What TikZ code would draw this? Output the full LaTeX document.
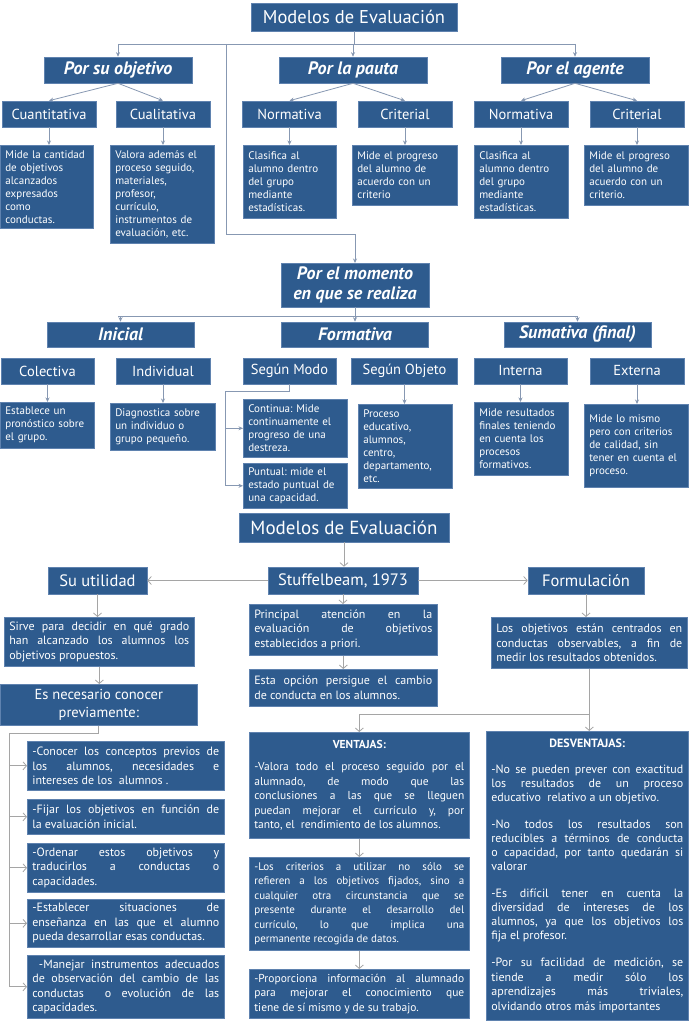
\documentclass[tikz,border=0pt]{standalone}
\usepackage{fontspec}
\setmainfont{PT Sans}
\usetikzlibrary{arrows.meta}
\definecolor{boxblue}{RGB}{46,91,142}
\definecolor{boxedge}{RGB}{95,130,175}
\definecolor{linkblue}{RGB}{135,152,178}
\definecolor{linkgray}{RGB}{165,165,165}
\tikzset{
  blk/.style={draw=boxedge, line width=0.6pt, fill=boxblue, text=white, inner sep=0pt},
  titlebox/.style={blk, font=\fontsize{18.5}{20}\selectfont},
  catbox/.style={blk, align=center, font=\fontsize{18}{20}\selectfont\bfseries\itshape},
  subbox/.style={blk, font=\fontsize{14.5}{16}\selectfont},
  descbox/.style={blk, anchor=north west, align=left, inner xsep=5pt, font=\fontsize{11}{13}\selectfont},
  notebox/.style={blk, anchor=north west, align=justify, inner xsep=5pt, font=\fontsize{12}{14.5}\selectfont},
  arr/.style={draw=linkblue, line width=0.8pt, -{Stealth[length=4.5pt,width=4pt]}},
  ln/.style={draw=linkblue, line width=0.8pt},
  garr/.style={draw=linkgray, line width=0.8pt, -{Straight Barb[length=3.5pt,width=8pt]}},
  gln/.style={draw=linkgray, line width=0.8pt}
}
\newcommand{\parbrk}{\par}
\newcommand{\boxtitle}[2]{{\centering\bfseries #1\parbrk}\vspace{#2}}
\newcommand{\midnote}{\fontsize{11.5}{15}\selectfont}
\newcommand{\tightnote}{\fontsize{11}{15}\selectfont}
\newcommand{\listnote}{\fontsize{12}{14}\selectfont}
\tolerance=10000
\hbadness=10000
\hyphenpenalty=10000
\exhyphenpenalty=10000
\frenchspacing
\begin{document}
\begin{tikzpicture}[x=1pt,y=-1pt]
  \fill[white] (0,0) rectangle (689,1024);
  \useasboundingbox (0,0) rectangle (689,1024);

  % por su objetivo, por la pauta, por el agente
  \node[titlebox, minimum width=206pt, minimum height=28pt] (top) at (354,17) {Modelos de Evaluación};
  \foreach \x/\lab/\tx in {118/obj/Por su objetivo, 353/pauta/Por la pauta, 575/agente/Por el agente} {
    \node[catbox, minimum width=148pt, minimum height=26pt] (\lab) at (\x,70) {\tx};
  }
  \foreach \x/\lab/\tx in {
    49/cuant/Cuantitativa,
    163/cual/Cualitativa,
    289.5/norm1/Normativa,
    405/crit1/Criterial,
    521/norm2/Normativa,
    637/crit2/Criterial%
  } {
    \node[subbox, minimum width=94pt, minimum height=26pt] (\lab) at (\x,114) {\tx};
  }
  \foreach \x/\y/\w/\h/\lab/\tx in {
    0/145/93/83/cuant-d/{Mide la cantidad\\ de objetivos\\ alcanzados\\ expresados\\ como\\ conductas.},
    110/145/104/98/cual-d/{Valora además el\\ proceso seguido,\\ materiales,\\ profesor,\\ currículo,\\ instrumentos de\\ evaluación, etc.},
    243/145/93/73/norm1-d/{Clasifica al\\ alumno dentro\\ del grupo\\ mediante\\ estadísticas.},
    352/145/105/60/crit1-d/{Mide el progreso\\ del alumno de\\ acuerdo con un\\ criterio},
    474/145/94/73/norm2-d/{Clasifica al\\ alumno dentro\\ del grupo\\ mediante\\ estadísticas.},
    584/145/104/60/crit2-d/{Mide el progreso\\ del alumno de\\ acuerdo con un\\ criterio.}%
  } {
    \pgfmathsetmacro\tw{\w-10}
    \node[descbox, text width=\tw pt, minimum height=\h pt] (\lab) at (\x,\y) {\tx};
  }

  \coordinate (hub) at (354,44);
  \coordinate (drop) at (226,44);
  \coordinate (turn) at (226,234);
  \draw[ln] (top) -- (hub);
  \draw[ln] (obj.north |- hub) -- (agente.north |- hub);
  \foreach \n in {obj,pauta,agente}{
    \draw[arr] (\n.north |- hub) -- (\n.north);
  }
  \draw[arr] (drop) -- (turn) -| (355,263);
  \foreach \u/\v in {obj/cuant, obj/cual, pauta/norm1, pauta/crit1, agente/norm2, agente/crit2}{
    \draw[arr] (\u.south) -- (\v.north);
  }
  \foreach \u in {cuant,cual,norm1,crit1,norm2,crit2}{
    \draw[arr] (\u.south) -- (\u.south |- \u-d.north);
  }

  % por el momento
  \node[catbox, minimum width=148pt, minimum height=44pt] (momento) at (355,285) {Por el momento\\ en que se realiza};
  \foreach \x/\lab/\tx in {120.5/inicial/Inicial, 355/formativa/Formativa, 577.5/sumativa/Sumativa (final)} {
    \node[catbox, minimum width=147pt, minimum height=25pt] (\lab) at (\x,334.5) {\tx};
  }
  \foreach \x/\w/\lab/\tx in {
    47.5/93/colect/Colectiva,
    163/94/indiv/Individual,
    289.5/93/modo/Según Modo,
    404.5/106/objeto/Según Objeto,
    520.5/93/interna/Interna,
    637/94/externa/Externa%
  } {
    \node[subbox, minimum width=\w pt, minimum height=26pt] (\lab) at (\x,371) {\tx};
  }
  \foreach \x/\y/\w/\h/\lab/\tx in {
    0/402/94/46/colect-d/{Establece un\\ pronóstico sobre\\ el grupo.},
    110/403/105/47/indiv-d/{Diagnostica sobre\\ un individuo o\\ grupo pequeño.},
    243/399/104/58/cont/{Continua: Mide\\ continuamente el\\ progreso de una\\ destreza.},
    243/463/104/45/punt/{Puntual: mide el\\ estado puntual de\\ una capacidad.},
    358/404/94/84/objeto-d/{Proceso\\ educativo,\\ alumnos,\\ centro,\\ departamento,\\ etc.},
    474/402/94/73/interna-d/{Mide resultados\\ finales teniendo\\ en cuenta los\\ procesos\\ formativos.},
    584/404/104/83/externa-d/{Mide lo mismo\\ pero con criterios\\ de calidad, sin\\ tener en cuenta el\\ proceso.}%
  } {
    \pgfmathsetmacro\tw{\w-10}
    \node[descbox, text width=\tw pt, minimum height=\h pt] (\lab) at (\x,\y) {\tx};
  }

  \coordinate (mhub) at (355,316);
  \coordinate (mknee) at (225,391);
  \draw[ln] (momento) -- (mhub);
  \draw[ln] (118,316) -- (577.5,316);
  \foreach \n in {inicial,formativa,sumativa}{
    \draw[arr] (\n.north |- mhub) -- (\n.north);
  }
  \foreach \u in {colect,indiv,objeto,interna,externa}{
    \draw[arr] (\u.south) -- (\u.south |- \u-d.north);
  }
  \draw[ln] (modo.south) -- (modo.south |- mknee) -- (mknee) -- (mknee |- punt.west);
  \draw[arr] (mknee |- cont.west) -- (cont.west);
  \draw[arr] (mknee |- punt.west) -- (punt.west);

  % Stuffelbeam
  \node[titlebox, font=\fontsize{19}{20}\selectfont, minimum width=210pt, minimum height=29pt] (top2) at (344,527.5) {Modelos de Evaluación};
  \foreach \x/\w/\lab/\tx in {97.5/99/util/Su utilidad, 343/150/stuff/{Stuffelbeam, 1973}, 586/116/formul/Formulación} {
    \node[titlebox, font=\fontsize{16.5}{18}\selectfont, minimum width=\w pt, minimum height=27pt] (\lab) at (\x,580.5) {\tx};
  }
  \node[blk, anchor=north west, align=center, font=\fontsize{14.5}{18}\selectfont, minimum width=197pt, minimum height=41pt] (nec) at (0,684) {Es necesario conocer\\ previamente:};
  \foreach \x/\y/\w/\h/\lab/\tx in {
    4/617/190/49/sirve/{Sirve para decidir en qué grado\linebreak han alcanzado los alumnos los\linebreak objetivos propuestos.},
    27/741/197/49/p1/{-Conocer los conceptos previos de\linebreak los alumnos, necesidades e\linebreak intereses de los~ alumnos .},
    27/799/197/35/p2/{-Fijar los objetivos en función de\linebreak la evaluación inicial.},
    27/843/197/49/p3/{-Ordenar estos objetivos y\linebreak traducirlos a conductas o\linebreak capacidades.},
    27/899/197/48/p4/{-Establecer situaciones de\linebreak enseñanza en las que el alumno\linebreak pueda desarrollar esas conductas.},
    27/955/197/63/p5/{\ -Manejar instrumentos adecuados\linebreak de observación del cambio de las\linebreak conductas~ o evolución de las\linebreak capacidades.},
    249/604/188/51/principal/{Principal atención en la\linebreak evaluación de objetivos\linebreak establecidos a priori.},
    249/669/188/37/esta/{Esta opción persigue el cambio\linebreak de conducta en los alumnos.},
    491/617/196/51/objetivos/{Los objetivos están centrados en\linebreak conductas observables, a fin de\linebreak medir los resultados obtenidos.},
    249/732/220/106/ventajas/{\midnote\boxtitle{VENTAJAS:}{8pt}-Valora todo el proceso seguido por el\linebreak alumnado, de modo que las\linebreak conclusiones a las que se lleguen\linebreak puedan mejorar el currículo y, por\linebreak tanto, el~ rendimiento de los alumnos.},
    249/857/220/93/v2/{\tightnote-Los criterios a utilizar no sólo se\linebreak refieren a los objetivos fijados, sino a\linebreak cualquier otra circunstancia que se\linebreak presente durante el desarrollo del\linebreak currículo, lo que implica una\linebreak permanente recogida de datos.},
    249/969/220/49/v3/{\midnote-Proporciona información al alumnado\linebreak para mejorar el conocimiento que\linebreak tiene de sí mismo y de su trabajo.},
    486/731/202/289/desv/{\listnote\boxtitle{DESVENTAJAS:}{12pt}-No se pueden prever con exactitud\linebreak los resultados de un proceso\linebreak educativo~ relativo a un objetivo.\parbrk\vspace{13pt}-No todos los resultados son\linebreak reducibles a términos de conducta\linebreak o capacidad, por tanto quedarán si\linebreak valorar\parbrk\vspace{13pt}-Es difícil tener en cuenta la\linebreak diversidad de intereses de los\linebreak alumnos, ya que los objetivos los\linebreak fija el profesor.\parbrk\vspace{13pt}-Por su facilidad de medición, se\linebreak tiende a medir sólo los\linebreak aprendizajes más triviales,\linebreak olvidando otros más importantes}%
  } {
    \pgfmathsetmacro\tw{\w-10}
    \node[notebox, text width=\tw pt, minimum height=\h pt] (\lab) at (\x,\y) {\tx};
  }

  \coordinate (nknee) at (9,733);
  \coordinate (vknee) at (587,714);
  \draw[garr] (top2.south) -- (top2.south |- stuff.north);
  \draw[garr] (stuff.west) -- (util.east);
  \draw[garr] (stuff.east) -- (formul.west);
  \draw[garr] (util.south) -- (util.south |- sirve.north);
  \draw[garr] (sirve.south) -- (sirve.south |- nec.north);
  \draw[gln] (nec.south) -- (nec.south |- nknee) -- (nknee) -- (nknee |- p5.west);
  \foreach \k in {p1,p2,p3,p4,p5}{
    \draw[garr] (nknee |- \k.west) -- (\k.west);
  }
  \draw[garr] (stuff.south) -- (stuff.south |- principal.north);
  \draw[garr] (principal.south) -- (principal.south |- esta.north);
  \draw[garr] (formul.south) -- (formul.south |- objetivos.north);
  \draw[gln] (objetivos.south) -- (objetivos.south |- vknee) -- (ventajas.north |- vknee);
  \draw[garr] (ventajas.north |- vknee) -- (ventajas.north);
  \draw[garr] (objetivos.south |- vknee) -- (objetivos.south |- desv.north);
  \draw[garr] (ventajas) -- (v2);
  \draw[garr] (v2) -- (v3);
\end{tikzpicture}
\end{document}
